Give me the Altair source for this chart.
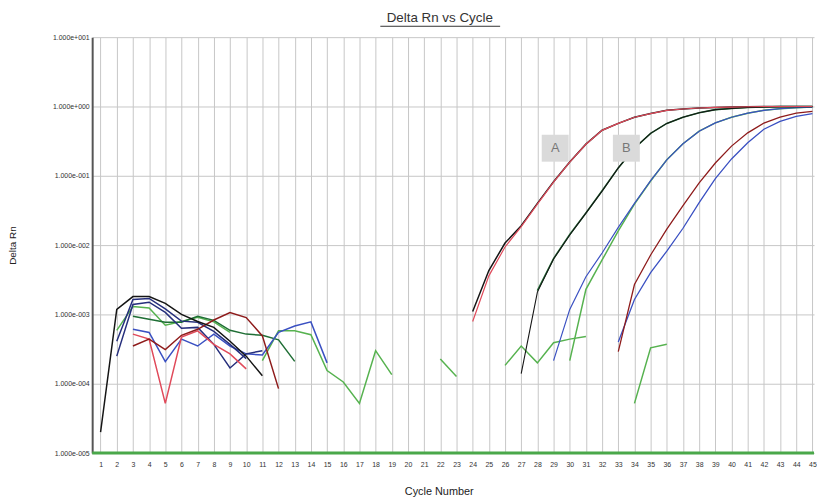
import altair as alt
import pandas as pd

chart_title = "Delta Rn vs Cycle"
x_title = "Cycle Number"
y_title = "Delta Rn"
cycles = list(range(1, 46))
y_ticks = [1e-5, 1e-4, 1e-3, 1e-2, 1e-1, 1e0, 1e1]

# amplification curves
a_black = [1.1e-3, 4.3e-3, 1.07e-2, 1.9e-2, 4.0e-2, 8.2e-2, 0.158, 0.286, 0.454, 0.57, 0.70,
           0.79, 0.88, 0.92, 0.95, 0.97, 0.98, 0.99, 1.0, 1.0, 1.0, 1.0]
a_red = [7.9e-4, 3.6e-3, 9.4e-3, 1.85e-2, 3.9e-2, 8.1e-2, 0.157, 0.285, 0.452, 0.57, 0.70,
         0.79, 0.88, 0.92, 0.95, 0.97, 0.98, 0.99, 1.0, 1.0, 1.0, 1.0]
b_black = [1.4e-4, 2.1e-3, 6.3e-3, 1.4e-2, 2.9e-2, 6.0e-2, 0.13, 0.25, 0.41, 0.57, 0.70,
           0.81, 0.90, 0.936, 0.968, 0.984, 0.995, 1.0, 1.0]
b_green = [2.2e-3, 6.4e-3, 1.42e-2, 2.9e-2, 6.1e-2, 0.13, 0.25, 0.41, 0.57, 0.70, 0.81,
           0.90, 0.936, 0.968, 0.984, 0.995, 1.0, 1.0]
c_blue = [2.15e-4, 1.18e-3, 3.5e-3, 7.7e-3, 1.8e-2, 4.0e-2, 8.5e-2, 0.17, 0.29, 0.44,
          0.58, 0.70, 0.80, 0.88, 0.93, 0.96, 0.98]
c_green = [2.15e-4, 2.3e-3, 6.1e-3, 1.6e-2, 3.9e-2, 8.4e-2, 0.17, 0.29, 0.44, 0.58,
           0.70, 0.80, 0.88, 0.93, 0.96, 0.98]
d_red = [2.9e-4, 2.7e-3, 7.2e-3, 1.7e-2, 3.7e-2, 7.9e-2, 0.153, 0.268, 0.416, 0.577, 0.703,
         0.80, 0.85]
d_blue = [4.0e-4, 1.64e-3, 4.0e-3, 8.2e-3, 1.75e-2, 4.1e-2, 9.1e-2, 0.175, 0.30, 0.47, 0.61,
          0.72, 0.79]

# early-cycle noise segments
n_black = [2.0e-5, 1.18e-3, 1.81e-3, 1.81e-3, 1.44e-3, 1.0e-3, 7.9e-4, 6.5e-4, 4.1e-4, 2.5e-4, 1.3e-4]
n_darkred = [3.5e-4, 4.4e-4, 3.1e-4, 5.0e-4, 6.1e-4, 8.3e-4, 1.06e-3, 9.0e-4, 4.9e-4, 8.5e-5]
n_red = [5.2e-4, 4.4e-4, 5.2e-5, 4.7e-4, 5.8e-4, 3.7e-4, 2.7e-4, 1.64e-4]
n_navy = [2.5e-4, 1.39e-3, 1.5e-3, 1.07e-3, 6.3e-4, 6.5e-4, 3.7e-4, 1.69e-4, 2.7e-4, 3.0e-4]
n_navy2 = [4.1e-4, 1.64e-3, 1.7e-3, 1.2e-3, 8.0e-4, 7.7e-4, 5.7e-4, 3.7e-4, 2.3e-4]
n_blue = [6.1e-4, 5.5e-4, 2.08e-4, 4.4e-4, 3.5e-4, 5.2e-4, 3.5e-4, 2.7e-4, 2.6e-4, 5.5e-4,
          6.8e-4, 7.8e-4, 2.0e-4]
n_green = [5.9e-4, 1.3e-3, 1.24e-3, 7.0e-4, 7.9e-4, 9.1e-4, 7.8e-4, 5.5e-4]
n_darkgreen = [9.4e-4, 8.5e-4, 7.7e-4, 7.7e-4, 9.4e-4, 8.2e-4, 5.9e-4, 5.2e-4, 5.0e-4, 4.3e-4, 2.1e-4]
n_green2 = [2.15e-4, 5.8e-4, 5.8e-4, 5.1e-4, 1.55e-4, 1.06e-4, 5.2e-5, 3.0e-4, 1.35e-4]
n_green3 = [2.28e-4, 1.27e-4]
n_green4 = [1.84e-4, 3.5e-4, 2.0e-4, 3.9e-4, 4.4e-4, 4.8e-4]
n_green5 = [5.2e-5, 3.3e-4, 3.7e-4]

threshold = [1e-5]

label_text = ["A", "B"]
label_cycle = [29.1, 33.5]
label_value = [0.25, 0.25]

# (series id, colour key, first cycle, values, line width)
series = [
    ("n_green", "green", 2, n_green, 1.5),
    ("n_darkgreen", "darkgreen", 3, n_darkgreen, 1.5),
    ("n_green2", "green", 11, n_green2, 1.5),
    ("n_green3", "green", 22, n_green3, 1.5),
    ("n_green4", "green", 26, n_green4, 1.5),
    ("n_green5", "green", 34, n_green5, 1.5),
    ("n_blue", "blue", 3, n_blue, 1.5),
    ("n_navy", "navy", 2, n_navy, 1.5),
    ("n_navy2", "navy", 2, n_navy2, 1.5),
    ("n_red", "red", 3, n_red, 1.5),
    ("n_darkred", "darkred", 3, n_darkred, 1.5),
    ("n_black", "black", 1, n_black, 1.5),
    ("c_green", "green", 30, c_green, 1.5),
    ("c_blue", "blue", 29, c_blue, 1.2),
    ("d_blue", "blue", 33, d_blue, 1.3),
    ("d_red", "darkred", 33, d_red, 1.3),
    ("b_green", "darkgreen", 28, b_green, 1.6),
    ("b_black", "black", 27, b_black, 1.1),
    ("a_black", "black", 24, a_black, 1.5),
    ("a_red", "red", 24, a_red, 1.2),
]

color_keys = ["black", "red", "darkred", "navy", "blue", "green", "darkgreen"]
color_vals = ["#151515", "#e04a5a", "#8e1b1b", "#262f7c", "#3a50c2", "#56b24f", "#1f6e35"]

rows = []
for order_i, (sid, ck, start, vals, w) in enumerate(series):
    for i, v in enumerate(vals):
        rows.append({"sid": f"{order_i:02d}_{sid}", "col": ck, "cycle": start + i, "rn": v, "w": w})
df = pd.DataFrame(rows)

x_scale = alt.Scale(domain=[0.48, 45.1], nice=False, zero=False)
y_scale = alt.Scale(type="log", domain=[1e-5, 10], nice=False)

label_expr = ("'1.000e' + (round(log(datum.value)/LN10) < 0 ? '-' : '+') + '00' + "
              "abs(round(log(datum.value)/LN10))")

x_axis = alt.Axis(values=cycles, grid=True, gridColor="#c6c6c6", gridWidth=1, domain=False,
                  ticks=False, labelFontSize=7, labelPadding=8, labelColor="#333",
                  labelFont="Liberation Sans", labelOverlap=False, labelFlush=False,
                  title=x_title, titleFont="Liberation Sans",
                  titleFontSize=11, titleFontWeight="normal", titleColor="#222",
                  titleX=350, titleY=33)
y_axis = alt.Axis(values=y_ticks, grid=True, gridColor="#c6c6c6", gridWidth=1,
                  labelExpr=label_expr, labelFontSize=7, labelPadding=3, ticks=False,
                  labelColor="#333", labelFont="Liberation Sans", labelOverlap=False,
                  domainColor="#555", domainWidth=2, title=y_title,
                  titleFont="Liberation Sans", titleFontSize=10, titleFontWeight="normal",
                  titleColor="#222", titleX=-75, titleY=210)


def X(field):
    return alt.X(field, scale=x_scale, axis=x_axis)


def Y(field):
    return alt.Y(field, scale=y_scale, axis=y_axis)


lines = alt.Chart(df).mark_line(clip=True).encode(
    x=X("cycle:Q"),
    y=Y("rn:Q"),
    color=alt.Color("col:N", scale=alt.Scale(domain=color_keys, range=color_vals), legend=None),
    strokeWidth=alt.StrokeWidth("w:Q", scale=None),
    detail="sid:N",
    order="cycle:Q",
)

thr = alt.Chart(pd.DataFrame({"v": threshold})).mark_rule(color="#4aa84a", strokeWidth=3).encode(
    y=Y("v:Q")
)

lab_df = pd.DataFrame({"t": label_text, "c": label_cycle, "v": label_value})
boxes = alt.Chart(lab_df).mark_square(size=740, color="#dadada", opacity=1).encode(
    x=X("c:Q"), y=Y("v:Q")
)
box_text = alt.Chart(lab_df).mark_text(fontSize=13, color="#777", font="Liberation Sans").encode(
    x=X("c:Q"), y=Y("v:Q"), text="t:N"
)

title_df = pd.DataFrame({"t": [chart_title]})
title_mark = alt.Chart(title_df).mark_text(fontSize=13.5, color="#333", font="Liberation Sans").encode(
    text="t:N", x=alt.value(351), y=alt.value(-19)
)
underline = alt.Chart(title_df).mark_rule(color="#333", strokeWidth=1).encode(
    x=alt.value(291), x2=alt.value(412), y=alt.value(-11)
)

chart = alt.layer(lines, thr, boxes, box_text, title_mark, underline).properties(
    width=729, height=420,
    padding={"left": 85, "top": 27, "right": 3, "bottom": 48},
    autosize=alt.AutoSizeParams(type="none"),
).configure_view(stroke=None)

chart.save("out.html", embed_options={"renderer": "svg", "actions": False})
